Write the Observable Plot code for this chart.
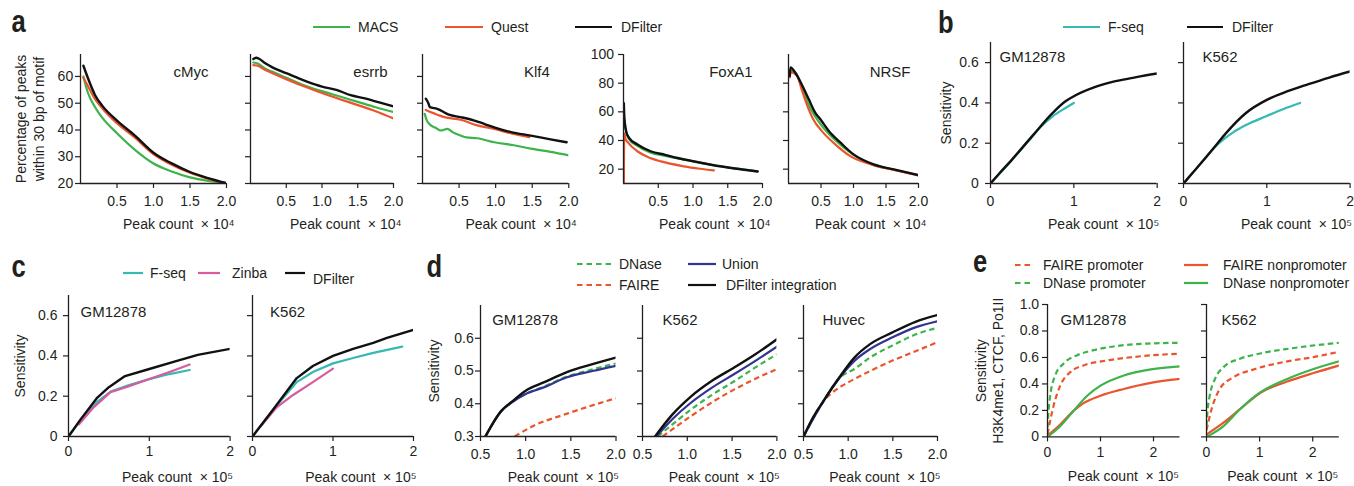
<!DOCTYPE html>
<html><head><meta charset="utf-8">
<script src="https://cdn.jsdelivr.net/npm/d3@7"></script>
<script src="https://cdn.jsdelivr.net/npm/@observablehq/plot@0.6"></script>
<style>
html,body{margin:0;padding:0;background:#fff;overflow:hidden;}
#root{position:relative;width:1354px;height:486px;overflow:hidden;background:#fff;}
</style></head><body><div id="root"></div>
<script>
// ---------------- DATA ----------------
// Panel a: % of peaks within 30 bp of motif vs peak count (x 10^4)
const aTitles = ["cMyc", "esrrb", "Klf4", "FoxA1", "NRSF"];
const aMethods = ["MACS", "Quest", "DFilter"];
const cMycMACS = [[0.04,60],[0.1,54],[0.2,48.5],[0.3,44.5],[0.5,38.8],[0.75,32.5],[1.0,27.5],[1.25,24.5],[1.5,22.3],[1.75,21],[2.0,20.2]];
const cMycQuest = [[0.04,59.5],[0.1,56.5],[0.2,51.5],[0.3,48],[0.5,42.5],[0.75,37],[1.0,31],[1.25,27],[1.5,24],[1.75,21.8],[1.95,20.3]];
const cMycDFilter = [[0.04,64],[0.1,59.5],[0.2,53],[0.3,49],[0.5,43.5],[0.75,37.8],[1.0,31.5],[1.25,27.5],[1.5,24.3],[1.75,22],[2.0,20.1]];
const esrrbMACS = [[0.04,65.2],[0.1,64.8],[0.2,63],[0.3,61.8],[0.5,59.5],[0.7,57.2],[1.0,54.5],[1.25,52.5],[1.5,50.5],[1.75,48.5],[2.0,46.7]];
const esrrbQuest = [[0.04,64.2],[0.1,64],[0.2,62.5],[0.3,61.3],[0.5,59],[0.7,56.8],[1.0,53.8],[1.25,51.5],[1.5,49.3],[1.75,47],[2.0,44.3]];
const esrrbDFilter = [[0.04,66.5],[0.08,67],[0.12,66.6],[0.2,65],[0.3,63.5],[0.4,62.3],[0.5,61.2],[0.7,59],[0.9,57],[1.0,56.2],[1.2,55],[1.4,53],[1.6,51.8],[1.8,50.3],[2.0,48.8]];
const klf4MACS = [[0.03,46],[0.06,43.5],[0.09,42.3],[0.18,40.8],[0.25,39.8],[0.34,40.4],[0.41,39.2],[0.52,37.9],[0.6,37.2],[0.75,36.9],[0.98,35.4],[1.25,34.3],[1.48,33],[1.75,31.8],[2.0,30.5]];
const klf4Quest = [[0.045,47.5],[0.15,46.3],[0.3,44.8],[0.52,43.8],[0.75,41.7],[0.98,40.4],[1.2,38.8],[1.46,37.3]];
const klf4DFilter = [[0.045,51.7],[0.08,50],[0.1,48.5],[0.2,47.9],[0.36,45.7],[0.52,44.8],[0.7,43.6],[0.85,42.2],[0.98,41],[1.21,39.2],[1.48,37.9],[1.75,36.5],[1.97,35.4]];
const foxa1MACS = [[0.01,55],[0.03,48],[0.08,41],[0.2,36.2],[0.39,31.5],[0.6,29.3],[0.78,27.5],[1.0,25.5],[1.26,23.1],[1.6,20.5],[1.93,18.4]];
const foxa1Quest = [[0.005,10],[0.01,45],[0.03,41],[0.06,38.9],[0.2,32.5],[0.35,28.5],[0.54,25.4],[0.87,22],[1.1,20.3],[1.3,19.1]];
const foxa1DFilter = [[0.005,66],[0.01,58],[0.02,52],[0.04,46],[0.08,41.8],[0.2,37.2],[0.39,32.5],[0.6,30],[0.78,27.8],[1.0,25.5],[1.26,23.1],[1.6,20.5],[1.93,18.4]];
const nrsfMACS = [[0.03,89],[0.12,86.5],[0.2,78],[0.3,66],[0.4,57.5],[0.5,51],[0.7,41],[1.0,30],[1.3,23],[1.6,19.8],[2.0,15.8]];
const nrsfQuest = [[0.02,84],[0.03,87.6],[0.13,85.3],[0.2,76],[0.28,65.4],[0.38,54.9],[0.51,46.7],[0.69,38.5],[0.95,29.1],[1.31,22.8],[1.62,19.5],[2.0,15.6]];
const nrsfDFilter = [[0.02,85],[0.03,91],[0.1,87.6],[0.2,79.4],[0.31,68.9],[0.41,59.5],[0.49,54.8],[0.62,46.7],[0.8,38.5],[1.0,30.3],[1.31,23.3],[1.62,19.8],[2.0,15.8]];

// Panel b: sensitivity vs peak count (x 10^5)
const cellLines = ["GM12878", "K562", "Huvec"];
const bMethods = ["F-seq", "DFilter"];
const bGMFseq = [[0,0],[0.25,0.113],[0.5,0.232],[0.6,0.28],[0.75,0.335],[0.9,0.375],[1.0,0.40]];
const bGMDFilter = [[0,0],[0.1,0.047],[0.25,0.115],[0.5,0.235],[0.75,0.352],[0.9,0.408],[1.0,0.433],[1.25,0.478],[1.5,0.508],[1.75,0.528],[2.0,0.546]];
const bK562Fseq = [[0,0],[0.1,0.048],[0.2,0.096],[0.3,0.145],[0.4,0.19],[0.5,0.225],[0.6,0.255],[0.75,0.29],[1.0,0.335],[1.2,0.37],[1.4,0.40]];
const bK562DFilter = [[0,0],[0.1,0.048],[0.25,0.12],[0.4,0.195],[0.5,0.245],[0.75,0.35],[1.0,0.415],[1.25,0.458],[1.5,0.493],[1.75,0.526],[2.0,0.556]];

// Panel c
const cMethods = ["F-seq", "Zinba", "DFilter"];
const cGMFseq = [[0,0],[0.15,0.08],[0.35,0.17],[0.53,0.225],[0.75,0.255],[1.0,0.285],[1.25,0.31],[1.5,0.33]];
const cGMZinba = [[0.13,0.06],[0.3,0.14],[0.52,0.22],[0.75,0.25],[1.0,0.285],[1.25,0.32],[1.5,0.357]];
const cGMDFilter = [[0,0],[0.15,0.085],[0.35,0.19],[0.5,0.245],[0.7,0.30],[1.0,0.335],[1.3,0.37],[1.6,0.405],[2.0,0.435]];
const cK562Fseq = [[0,0],[0.25,0.13],[0.55,0.27],[0.75,0.32],[1.0,0.363],[1.25,0.39],[1.5,0.415],[1.86,0.446]];
const cK562Zinba = [[0.1,0.05],[0.3,0.145],[0.5,0.205],[0.75,0.27],[1.0,0.337]];
const cK562DFilter = [[0,0],[0.25,0.13],[0.55,0.29],[0.75,0.35],[1.0,0.40],[1.25,0.435],[1.5,0.465],[1.67,0.49],[2.0,0.53]];

// Panel d
const dMethods = ["DNase", "FAIRE", "Union", "DFilter integration"];
const dGMDNase = [[0.554,0.3],[0.733,0.378],[0.8,0.394],[1.0,0.43],[1.2,0.452],[1.45,0.482],[1.74,0.505],[2.0,0.523]];
const dGMFAIRE = [[0.877,0.30],[1.09,0.333],[1.45,0.369],[2.0,0.417]];
const dGMUnion = [[0.554,0.3],[0.733,0.379],[0.8,0.395],[1.0,0.43],[1.2,0.45],[1.45,0.48],[1.74,0.50],[2.0,0.516]];
const dGMDFilter = [[0.554,0.3],[0.733,0.379],[0.859,0.409],[1.0,0.44],[1.2,0.465],[1.45,0.496],[1.74,0.521],[2.0,0.541]];
const dK562DNase = [[0.67,0.30],[0.83,0.336],[1.04,0.382],[1.28,0.428],[1.52,0.468],[1.76,0.511],[2.0,0.551]];
const dK562FAIRE = [[0.725,0.3],[0.9,0.335],[1.04,0.362],[1.28,0.405],[1.52,0.443],[1.76,0.476],[2.0,0.506]];
const dK562Union = [[0.656,0.3],[0.83,0.352],[1.04,0.403],[1.28,0.45],[1.52,0.49],[1.76,0.531],[2.0,0.574]];
const dK562DFilter = [[0.64,0.3],[0.83,0.366],[1.04,0.422],[1.28,0.471],[1.52,0.51],[1.76,0.551],[2.0,0.597]];
const dHuvecDNase = [[0.5,0.30],[0.725,0.409],[0.9,0.478],[1.07,0.506],[1.245,0.541],[1.49,0.577],[1.76,0.612],[2.0,0.632]];
const dHuvecFAIRE = [[0.5,0.30],[0.725,0.408],[0.85,0.44],[1.0,0.465],[1.245,0.5],[1.49,0.531],[1.76,0.561],[2.0,0.588]];
const dHuvecUnion = [[0.5,0.30],[0.725,0.409],[0.9,0.478],[1.07,0.531],[1.245,0.567],[1.49,0.602],[1.76,0.634],[2.0,0.652]];
const dHuvecDFilter = [[0.5,0.30],[0.6,0.355],[0.725,0.409],[0.9,0.48],[1.07,0.541],[1.245,0.582],[1.49,0.617],[1.76,0.651],[2.0,0.671]];

// Panel e
const eMethods = ["FAIRE promoter", "DNase promoter", "FAIRE nonpromoter", "DNase nonpromoter"];
const eGMFAIREprom = [[0,0.02],[0.05,0.12],[0.114,0.234],[0.24,0.387],[0.43,0.489],[0.68,0.54],[1.13,0.578],[1.76,0.609],[2.5,0.629]];
const eGMDNaseprom = [[0,0.07],[0.02,0.2],[0.05,0.31],[0.146,0.464],[0.3,0.553],[0.56,0.617],[0.87,0.655],[1.44,0.693],[1.95,0.706],[2.5,0.711]];
const eGMFAIREnon = [[0,0.01],[0.24,0.094],[0.49,0.196],[0.68,0.255],[1.0,0.311],[1.44,0.362],[1.95,0.408],[2.5,0.438]];
const eGMDNasenon = [[0,0],[0.24,0.08],[0.49,0.196],[0.75,0.311],[1.0,0.387],[1.44,0.464],[1.95,0.51],[2.5,0.533]];
const eK562FAIREprom = [[0,0.05],[0.095,0.209],[0.25,0.362],[0.51,0.451],[0.89,0.51],[1.46,0.566],[2.03,0.604],[2.5,0.643]];
const eK562DNaseprom = [[0,0.08],[0.02,0.2],[0.06,0.31],[0.16,0.438],[0.32,0.527],[0.63,0.591],[1.01,0.63],[1.58,0.668],[2.5,0.711]];
const eK562FAIREnon = [[0,0.018],[0.32,0.107],[0.63,0.209],[1.01,0.331],[1.52,0.418],[2.03,0.484],[2.5,0.54]];
const eK562DNasenon = [[0,0],[0.32,0.082],[0.63,0.209],[1.01,0.336],[1.52,0.438],[2.03,0.515],[2.5,0.571]];

// Tick values
const aXTicks = [0.5, 1.0, 1.5, 2.0];
const aYTicks = [20, 30, 40, 50, 60];
const aYTicksFox = [20, 40, 60, 80, 100];
const aYTicksNRSF = [20, 40, 60, 80];
const bcXTicks = [0, 1, 2];
const bcYTicks = [0, 0.2, 0.4, 0.6];
const dXTicks = [0.5, 1.0, 1.5, 2.0];
const dYTicks = [0.3, 0.4, 0.5, 0.6];
const eXTicks = [0, 1, 2];
const eYTicks = [0, 0.2, 0.4, 0.6, 0.8, 1.0];

// ---------------- STYLE ----------------
const FONT = "'Liberation Sans', Arial, Helvetica, sans-serif";
const AX = "#231f20";
const C = {green: "#3db34c", red: "#ea552d", black: "#111111", teal: "#35b9b2", pink: "#d65b9f", navy: "#2f3591"};
const DASH = "5.5,3.5";
const fmt1 = d => d.toFixed(1);
const fmtS = d => d === 0 ? "0" : d.toFixed(1);
const fmtI = d => String(d);
const X4 = "Peak count  \u00d7 10\u2074";
const X5 = "Peak count  \u00d7 10\u2075";

const root = document.getElementById("root");

function drawPanel(p) {
  const ML = 85, MR = 25, MT = 15, MB = 60;
  const fw = p.right - p.left, fh = p.bottom - p.top;
  const marks = [];
  for (const s of p.series) {
    marks.push(Plot.line(s.data, {
      x: d => d[0], y: d => d[1], stroke: s.color,
      strokeWidth: s.color === C.black ? 2.4 : 2.2,
      strokeDasharray: s.dash ? DASH : undefined,
      curve: p.curve || "monotone-x", clip: true,
      strokeLinejoin: "round", strokeLinecap: s.dash ? "butt" : "round"
    }));
  }
  marks.push(Plot.ruleX([p.xDomain[0]], {stroke: AX, strokeWidth: 1.3}));
  marks.push(Plot.ruleY([p.yDomain[0]], {stroke: AX, strokeWidth: 1.3}));
  marks.push(Plot.axisX({ticks: p.xTicks, tickFormat: p.xFormat, tickSize: 5, tickPadding: p.xPad, stroke: AX, fill: AX, fontSize: 14, label: null, strokeWidth: 1.2}));
  marks.push(Plot.axisY({ticks: p.yTicks, tickFormat: p.yLabels ? p.yFormat : () => "", tickSize: 5, tickPadding: p.yPad, stroke: AX, fill: AX, fontSize: 14, label: null, strokeWidth: 1.2}));
  const left = p.titleAnchor === "top-left";
  marks.push(Plot.text([p.title], {text: d => d, frameAnchor: p.titleAnchor, textAnchor: left ? "start" : "end", lineAnchor: "middle", dx: p.tdx, dy: p.tdy, fontSize: 15, fill: AX}));
  marks.push(Plot.text([p.xLabel], {text: d => d, frameAnchor: "bottom-right", textAnchor: "end", lineAnchor: "middle", dx: p.xlDx, dy: p.xlDy, fontSize: 14, fill: AX}));
  if (p.yLabel) {
    marks.push(Plot.text([p.yLabel], {text: d => d, frameAnchor: "left", rotate: -90, textAnchor: "middle", lineAnchor: "middle", lineHeight: p.ylLH || 1, dx: p.ylDx, fontSize: 14, fill: AX}));
  }
  const chart = Plot.plot({
    width: fw + ML + MR, height: fh + MT + MB,
    marginLeft: ML, marginRight: MR, marginTop: MT, marginBottom: MB,
    x: {domain: p.xDomain}, y: {domain: p.yDomain},
    style: {background: "transparent", overflow: "visible", fontFamily: FONT, fontSize: "14px", color: AX, maxWidth: "none"},
    marks
  });
  chart.style.position = "absolute";
  chart.style.left = (p.left - ML) + "px";
  chart.style.top = (p.top - MT) + "px";
  root.appendChild(chart);
}

const S = (data, color, dash) => ({data, color, dash});

// Panel a
const aBase = {top: 54, bottom: 183, xDomain: [0, 2], yDomain: [20, 68.2], xTicks: aXTicks, xFormat: fmt1, yTicks: aYTicks, yFormat: fmtI, xPad: 8, yPad: 2.3, titleAnchor: "top-right", tdy: 18, xLabel: X4, xlDx: 8, xlDy: 41};
drawPanel({...aBase, left: 80, right: 226, yLabels: true, title: aTitles[0], tdx: -18,
  yLabel: "Percentage of peaks\nwithin 30 bp of motif", ylDx: -51, ylLH: 1.29,
  series: [S(cMycMACS, C.green), S(cMycQuest, C.red), S(cMycDFilter, C.black)]});
drawPanel({...aBase, left: 250, right: 393, yLabels: false, title: aTitles[1], tdx: -6,
  series: [S(esrrbMACS, C.green), S(esrrbQuest, C.red), S(esrrbDFilter, C.black)]});
drawPanel({...aBase, left: 421.7, right: 568, yLabels: false, title: aTitles[2], tdx: -19,
  series: [S(klf4MACS, C.green), S(klf4Quest, C.red), S(klf4DFilter, C.black)]});
drawPanel({...aBase, left: 622.7, right: 761.7, yDomain: [10, 100], yTicks: aYTicksFox, yLabels: true, yPad: 4.4, title: aTitles[3], tdx: -10,
  series: [S(foxa1MACS, C.green), S(foxa1Quest, C.red), S(foxa1DFilter, C.black)]});
drawPanel({...aBase, left: 788.3, right: 918.3, yDomain: [10, 100], yTicks: aYTicksNRSF, yLabels: false, title: aTitles[4], tdx: -8,
  series: [S(nrsfMACS, C.green), S(nrsfQuest, C.red), S(nrsfDFilter, C.black)]});

// Panel b
const bBase = {top: 41.7, bottom: 182.7, xDomain: [0, 2], yDomain: [0, 0.7], xTicks: bcXTicks, xFormat: fmtI, yTicks: bcYTicks, yFormat: fmtS, xPad: 7.3, yPad: 6.7, titleAnchor: "top-left", tdy: 15, xLabel: X5, xlDx: 2, xlDy: 41.3};
drawPanel({...bBase, left: 990, right: 1156.7, yLabels: true, title: cellLines[0], tdx: 9, yLabel: "Sensitivity", ylDx: -44,
  series: [S(bGMFseq, C.teal), S(bGMDFilter, C.black)]});
drawPanel({...bBase, left: 1182.7, right: 1349.3, yLabels: false, title: cellLines[1], tdx: 19,
  series: [S(bK562Fseq, C.teal), S(bK562DFilter, C.black)]});

// Panel c
const cBase = {top: 295, bottom: 436, xDomain: [0, 2], yDomain: [0, 0.7], xTicks: bcXTicks, xFormat: fmtI, yTicks: bcYTicks, yFormat: fmtS, xPad: 5, yPad: 6, titleAnchor: "top-left", tdy: 16.7, xLabel: X5, xlDx: 3, xlDy: 41.5, curve: "linear"};
drawPanel({...cBase, left: 67.7, right: 229.3, yLabels: true, title: cellLines[0], tdx: 12, yLabel: "Sensitivity", ylDx: -48,
  series: [S(cGMFseq, C.teal), S(cGMZinba, C.pink), S(cGMDFilter, C.black)]});
drawPanel({...cBase, left: 251.7, right: 412.7, yLabels: false, title: cellLines[1], tdx: 17.6,
  series: [S(cK562Fseq, C.teal), S(cK562Zinba, C.pink), S(cK562DFilter, C.black)]});

// Panel d
const dBase = {top: 305, bottom: 436, xDomain: [0.5, 2], yDomain: [0.3, 0.7], xTicks: dXTicks, xFormat: fmt1, yTicks: dYTicks, yFormat: fmt1, xPad: 7.3, yPad: 1.7, titleAnchor: "top-left", tdy: 15, xLabel: X5, xlDx: 3, xlDy: 40.7};
drawPanel({...dBase, left: 480, right: 615.5, yLabels: true, title: cellLines[0], tdx: 11.7, yLabel: "Sensitivity", ylDx: -45.5,
  series: [S(dGMFAIRE, C.red, true), S(dGMDNase, C.green, true), S(dGMUnion, C.navy), S(dGMDFilter, C.black)]});
drawPanel({...dBase, left: 642.3, right: 776.7, yLabels: false, title: cellLines[1], tdx: 20,
  series: [S(dK562FAIRE, C.red, true), S(dK562DNase, C.green, true), S(dK562Union, C.navy), S(dK562DFilter, C.black)]});
drawPanel({...dBase, left: 802.7, right: 936.7, yLabels: false, title: cellLines[2], tdx: 19,
  series: [S(dHuvecFAIRE, C.red, true), S(dHuvecDNase, C.green, true), S(dHuvecUnion, C.navy), S(dHuvecDFilter, C.black)]});

// Panel e
const eBase = {top: 304.3, bottom: 436.7, xDomain: [0, 2.5], yDomain: [0, 1], xTicks: eXTicks, xFormat: fmtI, yTicks: eYTicks, yFormat: fmtS, xPad: 4.7, yPad: 3.4, titleAnchor: "top-left", tdy: 16, xLabel: X5, xlDx: -1, xlDy: 40};
drawPanel({...eBase, left: 1046.7, right: 1179.2, yLabels: true, title: cellLines[0], tdx: 13,
  yLabel: "Sensitivity\nH3K4me1, CTCF, Po1II", ylDx: -58, ylLH: 1.21,
  series: [S(eGMFAIREnon, C.red), S(eGMDNasenon, C.green), S(eGMFAIREprom, C.red, true), S(eGMDNaseprom, C.green, true)]});
drawPanel({...eBase, left: 1206, right: 1338.8, yLabels: false, title: cellLines[1], tdx: 15,
  series: [S(eK562FAIREnon, C.red), S(eK562DNasenon, C.green), S(eK562FAIREprom, C.red, true), S(eK562DNaseprom, C.green, true)]});

// ---------------- LEGENDS & PANEL LETTERS ----------------
const ov = d3.select(root).append("svg")
  .attr("width", 1354).attr("height", 486)
  .style("position", "absolute").style("left", "0px").style("top", "0px")
  .style("font-family", FONT).style("overflow", "visible");

const legend = [
  {x1: 313, x2: 350, y: 27, color: C.green, text: aMethods[0], tx: 358},
  {x1: 445, x2: 483, y: 27, color: C.red, text: aMethods[1], tx: 491},
  {x1: 575, x2: 612, y: 27, color: C.black, text: aMethods[2], tx: 621},
  {x1: 1063, x2: 1100, y: 27, color: C.teal, text: bMethods[0], tx: 1108},
  {x1: 1187, x2: 1223, y: 27, color: C.black, text: bMethods[1], tx: 1232},
  {x1: 123, x2: 143, y: 273, color: C.teal, text: cMethods[0], tx: 150},
  {x1: 198, x2: 220, y: 273, color: C.pink, text: cMethods[1], tx: 232},
  {x1: 285, x2: 305, y: 273, color: C.black, text: cMethods[2], tx: 313, ty: 279},
  {x1: 577, x2: 614, y: 264, color: C.green, dash: true, text: dMethods[0], tx: 619},
  {x1: 577, x2: 614, y: 285, color: C.red, dash: true, text: dMethods[1], tx: 619},
  {x1: 688, x2: 716, y: 264, color: C.navy, text: dMethods[2], tx: 722},
  {x1: 688, x2: 716, y: 285, color: C.black, text: dMethods[3], tx: 726},
  {x1: 1015, x2: 1033, y: 265, color: C.red, dash: true, text: eMethods[0], tx: 1043},
  {x1: 1015, x2: 1033, y: 283, color: C.green, dash: true, text: eMethods[1], tx: 1043},
  {x1: 1184, x2: 1208, y: 265, color: C.red, text: eMethods[2], tx: 1223},
  {x1: 1184, x2: 1208, y: 283, color: C.green, text: eMethods[3], tx: 1223}
];
for (const l of legend) {
  ov.append("line").attr("x1", l.x1).attr("x2", l.x2).attr("y1", l.y).attr("y2", l.y)
    .attr("stroke", l.color).attr("stroke-width", 2.2)
    .attr("stroke-dasharray", l.dash ? "5.5,4" : null);
  ov.append("text").attr("x", l.tx).attr("y", (l.ty || l.y) + 5)
    .attr("font-size", 14).attr("fill", AX).text(l.text);
}
const letters = [
  {t: "a", x: 11.5, y: 31.5}, {t: "b", x: 938, y: 33},
  {t: "c", x: 11.5, y: 277}, {t: "d", x: 426.5, y: 277}, {t: "e", x: 973, y: 272}
];
for (const L of letters) {
  ov.append("text").attr("transform", `translate(${L.x},${L.y}) scale(0.8,1)`)
    .attr("font-size", 32).attr("font-weight", "bold").attr("fill", "#231f20").text(L.t);
}
</script></body></html>
